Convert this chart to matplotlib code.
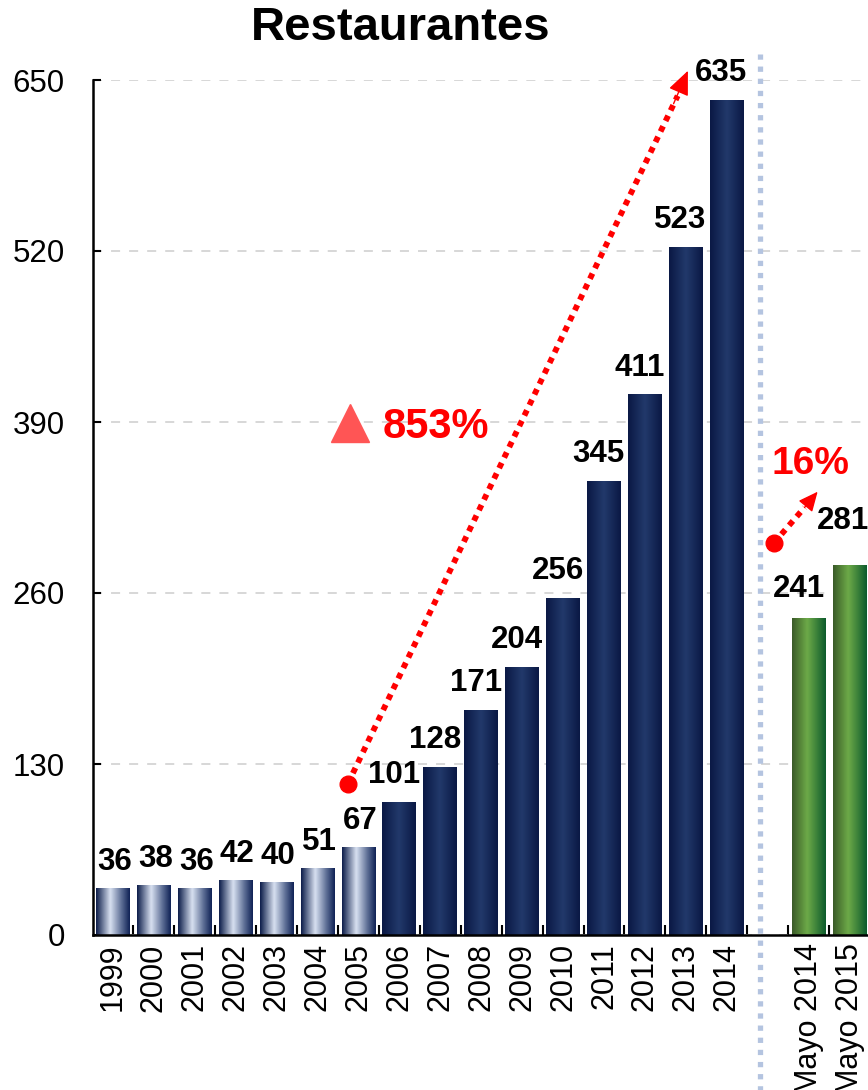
import numpy as np
import matplotlib
matplotlib.use("Agg")
import matplotlib.pyplot as plt
from matplotlib.colors import LinearSegmentedColormap

plt.rcParams['font.family'] = ['Liberation Sans', 'DejaVu Sans']

# ---- data ----
years = ['1999', '2000', '2001', '2002', '2003', '2004', '2005',
         '2006', '2007', '2008', '2009', '2010', '2011', '2012', '2013', '2014']
year_values = [36, 38, 36, 42, 40, 51, 67, 101, 128, 171, 204, 256, 345, 411, 523, 635]
may_labels = ['Mayo 2014', 'Mayo 2015']
may_values = [241, 281]
growth_total = '853%'
growth_may = '16%'
title = 'Restaurantes'
yticks = [0, 130, 260, 390, 520, 650]

categories = years + [''] + may_labels
pos = np.arange(len(categories))
light_idx = pos[:7]
dark_idx = pos[7:16]
may_idx = pos[17:]

fig = plt.figure(figsize=(8.68, 10.9), dpi=100)
ax = fig.add_axes([92.5 / 868, 155 / 1090, (870 - 92.5) / 868, 855 / 1090])

width = 0.83
b_light = ax.bar(light_idx, year_values[:7], width=width, facecolor='none', edgecolor='none')
b_dark = ax.bar(dark_idx, year_values[7:], width=width, facecolor='none', edgecolor='none')
b_may = ax.bar(may_idx, may_values, width=width, facecolor='none', edgecolor='none')

cm_light = LinearSegmentedColormap.from_list('l', [(0, '#0A1A48'), (0.42, '#D8E1F1'),
                                                  (0.75, '#5E6F96'), (1, '#0E2054')])
cm_dark = LinearSegmentedColormap.from_list('d', [(0, '#0A1844'), (0.5, '#22396B'), (1, '#0A1844')])
cm_green = LinearSegmentedColormap.from_list('g', [(0, '#3A5A28'), (0.45, '#6DAA48'), (1, '#0C5A2C')])

grad = np.linspace(0, 1, 256).reshape(1, -1)
for cont, cm in [(b_light, cm_light), (b_dark, cm_dark), (b_may, cm_green)]:
    for p in cont.patches:
        x, y = p.get_x(), p.get_y()
        w, h = p.get_width(), p.get_height()
        im = ax.imshow(grad, extent=[x, x + w, y, y + h], aspect='auto', cmap=cm,
                       interpolation='bicubic', zorder=2)
        im.set_clip_path(p)

ax.set_xlim(-0.5, len(categories) - 0.5)
ax.set_ylim(0, 650)
ax.set_aspect('auto')

lab_kw = dict(fontsize=22.5, fontweight='bold', color='black', ha='center', va='bottom',
              textcoords='offset points', annotation_clip=False, zorder=6)
for i, v in zip(light_idx, year_values[:7]):
    ax.annotate(str(v), xy=(i, v), xytext=(1, 8), **lab_kw)
for i, v in zip(dark_idx, year_values[7:]):
    ax.annotate(str(v), xy=(i, v), xytext=(-4, 8.5), **lab_kw)
ax.annotate(str(may_values[0]), xy=(may_idx[0], may_values[0]), xytext=(-7, 10), **lab_kw)
ax.annotate(str(may_values[1]), xy=(may_idx[1], may_values[1]), xytext=(-5, 21), **lab_kw)

# grid
ax.set_yticks(yticks)
ax.yaxis.grid(True, linestyle=(0, (5, 5)), color='#D4D4D4', linewidth=1.3, zorder=0)
ax.set_axisbelow(True)

# spines
for s in ['top', 'right']:
    ax.spines[s].set_visible(False)
for s in ['left', 'bottom']:
    ax.spines[s].set_linewidth(1.8)

ax.set_xticks(pos)
ax.set_xticklabels(categories, rotation=90, fontsize=22, va='top')
ax.set_xticks(np.arange(-0.5, len(categories) - 0.5, 1)[1:], minor=True)
ax.tick_params(axis='x', which='major', length=0, pad=6)
ax.tick_params(axis='x', which='minor', direction='in', length=7, width=1.5)
ax.tick_params(axis='y', direction='in', length=6, width=1.5, labelsize=22.5, pad=20)

# separator
ax.axvline(15.8, ymin=-0.185, ymax=1.03, color='#B4C4E0', linewidth=3.8,
           linestyle=(0, (1, 1.3)), clip_on=False, zorder=1)

# growth arrow 1
red = '#FF0000'
ax.plot([5.74, 13.8], [115, 638], color=red, linewidth=4.2, linestyle=(0, (1, 1)),
        zorder=4, clip_on=False)
ax.annotate('', xy=(14.05, 657), xytext=(13.7, 632), annotation_clip=False,
            arrowprops=dict(arrowstyle='-|>,head_length=1.5,head_width=0.65', color=red, lw=1,
                            shrinkA=0, shrinkB=0), zorder=5)
ax.plot([5.74], [115], 'o', color=red, markersize=12, zorder=5)
ax.plot([5.79], [389], marker='^', color='#FF5555', markersize=27, linestyle='none', zorder=5)
ax.text(6.6, 386, growth_total, color=red, fontsize=30, fontweight='bold', va='center', ha='left')

# growth arrow 2
ax.plot([16.15, 16.9], [298, 325], color=red, linewidth=4.2, linestyle=(0, (1, 1)), zorder=4)
ax.annotate('', xy=(17.22, 337), xytext=(16.9, 325), annotation_clip=False,
            arrowprops=dict(arrowstyle='-|>,head_length=1.2,head_width=0.55', color=red, lw=1,
                            shrinkA=0, shrinkB=0), zorder=5)
ax.plot([16.15], [298], 'o', color=red, markersize=12, zorder=5)
ax.text(16.1, 358, growth_may, color=red, fontsize=28, fontweight='bold', va='center', ha='left')

fig.text(401 / 868, 1 - 28 / 1090, title, fontsize=34, fontweight='bold', ha='center', va='center')

fig.savefig('out.png', dpi=100)
